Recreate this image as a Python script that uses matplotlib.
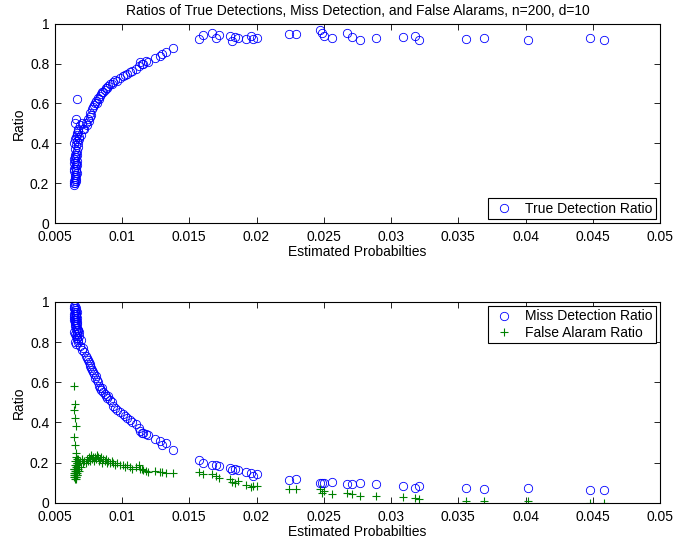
import matplotlib
matplotlib.use('Agg')
import matplotlib.pyplot as plt
from matplotlib.ticker import MultipleLocator, FuncFormatter

plt.rcParams['font.family'] = ['Liberation Sans', 'DejaVu Sans']
plt.rcParams['font.size'] = 10

# estimated probability (x) shared by all three ratio series
est_prob = [
    # dense cluster near the lower limit
    0.00640, 0.00642, 0.00645, 0.00648, 0.00650, 0.00652, 0.00655, 0.00658, 0.00660, 0.00662,
    0.00643, 0.00646, 0.00649, 0.00651, 0.00654, 0.00657, 0.00659, 0.00661, 0.00664, 0.00667,
    0.00641, 0.00644, 0.00647, 0.00650, 0.00653, 0.00656, 0.00658, 0.00663, 0.00666, 0.00670,
    0.00645, 0.00648, 0.00652, 0.00655, 0.00660, 0.00665, 0.00668, 0.00672, 0.00676, 0.00680,
    0.00650, 0.00655, 0.00662, 0.00668, 0.00675, 0.00683, 0.00690, 0.00697, 0.00705, 0.00712,
    # rising / falling curve
    0.00720, 0.00730, 0.00738, 0.00745, 0.00752, 0.00760, 0.00765, 0.00772, 0.00778, 0.00785,
    0.00792, 0.00798, 0.00805, 0.00812, 0.00820, 0.00828, 0.00836, 0.00845, 0.00852, 0.00860,
    0.00870, 0.00880, 0.00890, 0.00898, 0.00910, 0.00922, 0.00935, 0.00948, 0.00960, 0.00985,
    0.01005, 0.01022, 0.01040, 0.01059, 0.01075, 0.01100, 0.01128, 0.01134, 0.01145, 0.01156,
    0.01175, 0.01190, 0.01245, 0.01280, 0.01294, 0.01330, 0.01381,
    # sparse tail
    0.0157, 0.0160, 0.0167, 0.0170, 0.0172, 0.0180, 0.0182, 0.0184, 0.0186, 0.0192,
    0.0196, 0.0197, 0.0200, 0.0224, 0.0229, 0.0247, 0.0249, 0.0250, 0.0256, 0.0267,
    0.0271, 0.0277, 0.0289, 0.0309, 0.0318, 0.0321, 0.0356, 0.0369, 0.0402, 0.0448,
    0.0458,
]

true_det = [
    0.19, 0.20, 0.21, 0.22, 0.20, 0.23, 0.21, 0.24, 0.22, 0.25,
    0.26, 0.27, 0.24, 0.28, 0.29, 0.26, 0.30, 0.27, 0.31, 0.29,
    0.32, 0.30, 0.33, 0.34, 0.31, 0.35, 0.33, 0.36, 0.34, 0.38,
    0.40, 0.37, 0.42, 0.39, 0.43, 0.41, 0.44, 0.40, 0.46, 0.43,
    0.50, 0.52, 0.62, 0.45, 0.47, 0.42, 0.49, 0.44, 0.50, 0.47,
    0.47, 0.50, 0.49, 0.52, 0.51, 0.53, 0.55, 0.54, 0.57, 0.58,
    0.59, 0.60, 0.61, 0.60, 0.63, 0.62, 0.64, 0.65, 0.66, 0.66,
    0.67, 0.68, 0.68, 0.69, 0.70, 0.70, 0.71, 0.72, 0.715, 0.73,
    0.74, 0.745, 0.75, 0.76, 0.765, 0.775, 0.79, 0.81, 0.80, 0.80,
    0.815, 0.81, 0.83, 0.84, 0.85, 0.86, 0.88,
    0.925, 0.943, 0.953, 0.93, 0.945, 0.94, 0.915, 0.935, 0.93, 0.925,
    0.94, 0.925, 0.93, 0.947, 0.947, 0.966, 0.955, 0.94, 0.93, 0.953,
    0.934, 0.92, 0.93, 0.934, 0.94, 0.92, 0.925, 0.93, 0.92, 0.93,
    0.92,
]

miss_det = [
    0.98, 0.97, 0.97, 0.96, 0.98, 0.95, 0.97, 0.94, 0.96, 0.95,
    0.94, 0.93, 0.95, 0.92, 0.93, 0.94, 0.91, 0.93, 0.90, 0.92,
    0.91, 0.92, 0.90, 0.89, 0.91, 0.88, 0.90, 0.87, 0.89, 0.86,
    0.85, 0.88, 0.84, 0.86, 0.83, 0.85, 0.82, 0.86, 0.81, 0.83,
    0.80, 0.79, 0.82, 0.84, 0.80, 0.85, 0.78, 0.81, 0.76, 0.77,
    0.75, 0.73, 0.72, 0.71, 0.70, 0.69, 0.68, 0.67, 0.66, 0.65,
    0.64, 0.62, 0.63, 0.61, 0.60, 0.58, 0.57, 0.56, 0.57, 0.55,
    0.54, 0.53, 0.52, 0.53, 0.51, 0.50, 0.48, 0.47, 0.46, 0.45,
    0.44, 0.43, 0.42, 0.41, 0.40, 0.39, 0.37, 0.36, 0.35, 0.35,
    0.345, 0.34, 0.32, 0.31, 0.29, 0.30, 0.265,
    0.212, 0.20, 0.19, 0.19, 0.185, 0.175, 0.163, 0.167, 0.163, 0.155,
    0.150, 0.134, 0.145, 0.114, 0.118, 0.098, 0.100, 0.101, 0.105, 0.092,
    0.096, 0.100, 0.092, 0.085, 0.074, 0.082, 0.074, 0.069, 0.075, 0.062,
    0.065,
]

false_alarm = [
    0.13, 0.15, 0.58, 0.14, 0.49, 0.16, 0.12, 0.18, 0.15, 0.14,
    0.46, 0.17, 0.42, 0.13, 0.19, 0.15, 0.38, 0.16, 0.14, 0.20,
    0.33, 0.17, 0.29, 0.15, 0.21, 0.13, 0.25, 0.18, 0.16, 0.22,
    0.14, 0.19, 0.12, 0.23, 0.17, 0.15, 0.20, 0.18, 0.21, 0.16,
    0.15, 0.13, 0.22, 0.19, 0.17, 0.20, 0.21, 0.18, 0.22, 0.20,
    0.21, 0.20, 0.22, 0.21, 0.23, 0.22, 0.21, 0.24, 0.22, 0.23,
    0.21, 0.23, 0.22, 0.24, 0.23, 0.21, 0.22, 0.23, 0.20, 0.22,
    0.21, 0.22, 0.20, 0.21, 0.20, 0.21, 0.20, 0.19, 0.20, 0.19,
    0.19, 0.18, 0.19, 0.18, 0.17, 0.18, 0.19, 0.17, 0.17, 0.165,
    0.16, 0.155, 0.16, 0.155, 0.155, 0.15, 0.15,
    0.154, 0.145, 0.142, 0.134, 0.123, 0.118, 0.105, 0.100, 0.108, 0.088,
    0.077, 0.085, 0.085, 0.069, 0.069, 0.069, 0.049, 0.060, 0.044, 0.049,
    0.042, 0.036, 0.036, 0.028, 0.025, 0.020, 0.011, 0.008, 0.008, 0.0,
    0.0,
]

fig = plt.figure(figsize=(6.94, 5.39), dpi=100)
ax1 = fig.add_axes([0.079, 0.586, 0.872, 0.370])
ax2 = fig.add_axes([0.079, 0.067, 0.872, 0.373])

ax1.plot(est_prob, true_det, 'o', color='blue', mfc='none', ms=6, mew=0.6,
         label='True Detection Ratio')
ax2.plot(est_prob, miss_det, 'o', color='blue', mfc='none', ms=6, mew=0.6,
         label='Miss Detection Ratio')
ax2.plot(est_prob, false_alarm, '+', color=(0, 0.5, 0), ms=6, mew=0.8,
         label='False Alaram Ratio')

for ax in (ax1, ax2):
    ax.set_xlim(0.005, 0.05)
    ax.set_ylim(0, 1)
    ax.xaxis.set_major_locator(MultipleLocator(0.005))
    ax.yaxis.set_major_locator(MultipleLocator(0.2))
    ax.xaxis.set_major_formatter(FuncFormatter(lambda v, p: f'{v:g}'))
    ax.yaxis.set_major_formatter(FuncFormatter(lambda v, p: f'{v:g}'))
    ax.tick_params(direction='in', top=True, right=True, length=4, width=0.6)
    ax.tick_params(axis='x', pad=5)
    ax.tick_params(axis='y', pad=4)
    for s in ax.spines.values():
        s.set_linewidth(0.8)
    ax.set_xlabel('Estimated Probabilties', labelpad=1)
    ax.set_ylabel('Ratio', labelpad=3)

ax1.set_title('Ratios of True Detections, Miss Detection, and False Alarams, n=200, d=10',
              fontsize=10, pad=6)
ax1.legend(loc='lower right', fancybox=False, edgecolor='black', framealpha=1,
           borderaxespad=0.3, handletextpad=0.6, borderpad=0.25,
           handlelength=1.8).get_frame().set_linewidth(0.8)
ax2.legend(loc='upper right', fancybox=False, edgecolor='black', framealpha=1,
           borderaxespad=0.3, handletextpad=0.6, borderpad=0.25,
           handlelength=1.8, labelspacing=0.15).get_frame().set_linewidth(0.8)

fig.savefig('out.png', dpi=100)
